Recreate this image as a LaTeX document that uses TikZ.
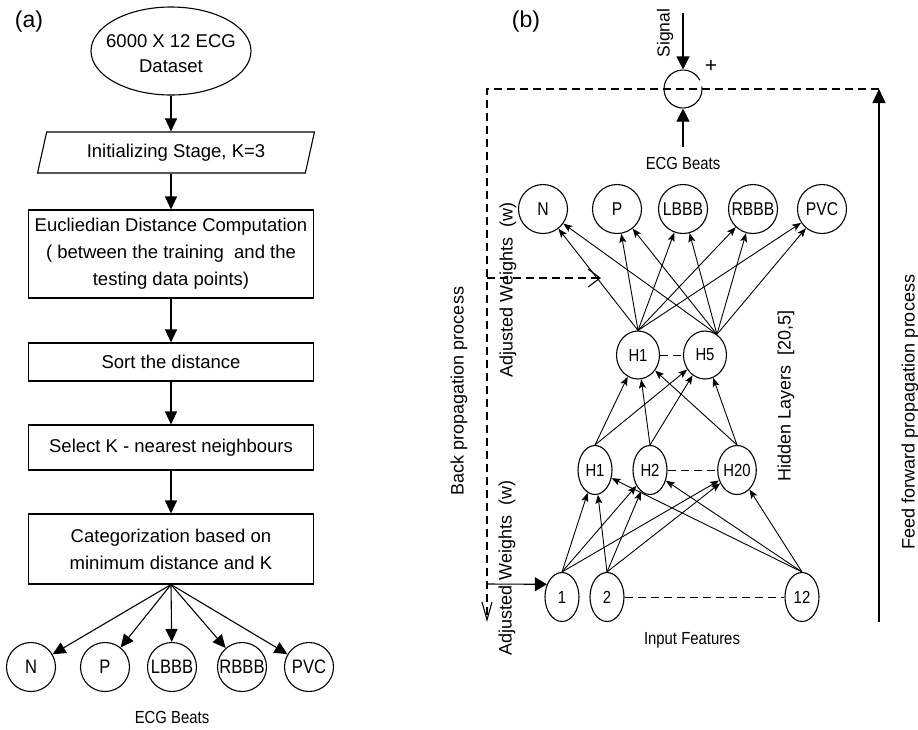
\documentclass[tikz,border=0pt]{standalone}
\usepackage{fontspec}
\setmainfont{Liberation Sans}
\newfontfamily\narrowfont[FakeStretch=0.85]{Liberation Sans}
\usetikzlibrary{shapes.geometric,arrows.meta}
\tikzset{
 lfont/.style={font=\fontsize{18.5}{27}\selectfont},
 flowbox/.style={draw, rectangle, minimum width=285pt, inner sep=0pt, align=center, lfont},
 farrow/.style={-{Triangle[length=13pt,width=12pt]}},
 beat/.style={draw, circle, minimum size=49pt, inner sep=0pt, font=\narrowfont\fontsize{19.5}{20}\selectfont},
 rbeat/.style={beat, font=\narrowfont\fontsize{18.5}{20}\selectfont},
 neuron/.style={draw, ellipse, minimum width=34pt, minimum height=49pt, inner sep=0pt, font=\narrowfont\fontsize{17.5}{18}\selectfont},
 hidtwo/.style={neuron, minimum width=43pt, minimum height=48pt},
 narr/.style={-{Stealth[length=9pt,width=7pt,inset=2pt]}, line width=0.9pt},
 dsh/.style={dash pattern=on 8pt off 5pt},
 rottext/.style={rotate=90, font=\fontsize{18}{20}\selectfont},
 nartext/.style={font=\narrowfont\fontsize{17.5}{20}\selectfont},
}
\begin{document}
\begin{tikzpicture}[x=1pt,y=-1pt,line width=1.1pt]
\useasboundingbox (0,0) rectangle (918,729);

% ---------- (a) ----------
\node[font=\fontsize{23}{25}\selectfont] (la) at (29,22) {(a)};
\node[ellipse, draw, minimum width=160pt, minimum height=88pt, inner sep=0pt, align=center, font=\fontsize{18.5}{25}\selectfont] (ds) at (171,51) {};
\node[align=center, font=\fontsize{18.5}{25}\selectfont] (dstext) at (171,54) {6000 X 12 ECG\\Dataset};
\node[trapezium, trapezium left angle=70, trapezium right angle=110, trapezium stretches=true, draw, minimum width=277pt, minimum height=41pt, inner sep=0pt, lfont] (init) at (176,152.5) {Initializing Stage, K=3};
\node[flowbox, minimum height=88pt] (eu) at (171,254) {Eucliedian Distance Computation\\( between the training\ \ and the\\testing data points)};
\node[flowbox, minimum height=38pt] (sort) at (171,362) {Sort the distance};
\node[flowbox, minimum height=45pt] (sel) at (171,447.5) {Select K - nearest neighbours};
\node[flowbox, minimum height=70pt] (cat) at (171,549) {Categorization based on\\minimum distance and K};

\draw[farrow] (ds.south) -- (ds.south |- init.north);
\draw[farrow] (ds.south |- init.south) -- (eu.north);
\draw[farrow] (eu.south) -- (sort.north);
\draw[farrow] (sort.south) -- (sel.north);
\draw[farrow] (sel.south) -- (cat.north);

\node[beat] (N1) at (31,667) {N};
\node[beat] (P1) at (105,667) {P};
\node[beat] (L1) at (172,667) {LBBB};
\node[beat] (R1) at (242,667) {RBBB};
\node[beat] (V1) at (309,667) {PVC};
\foreach \c in {N1,P1,L1,R1,V1} \draw[farrow] (cat.south) -- (\c);
\node[nartext] (ecga) at (172,717) {ECG Beats};

% ---------- (b) ----------
\node[font=\fontsize{23}{25}\selectfont] (lb) at (526,22) {(b)};
\node[circle, minimum size=38pt, inner sep=0pt] (sum) at (683,89) {};
\begin{scope}[shift={(683,89)}, y=1pt]
  \draw (28:19) arc[start angle=28, end angle=368, radius=19];
\end{scope}
\coordinate (sigtop) at (683,13);
\draw[-{Triangle[length=13pt,width=13pt]}] (sigtop) -- (sum.north);
\node[rottext, font=\fontsize{17.5}{20}\selectfont] (sig) at (665,33) {Signal};
\node[font=\fontsize{21}{21}\selectfont] (plus) at (711,66) {+};
\coordinate (ecgtop) at (683,147);
\draw[-{Triangle[length=13pt,width=13pt]}] (ecgtop) -- (sum.south);
\node[nartext] (ecgb) at (683,163) {ECG Beats};

\coordinate (fftop) at (879,89);
\coordinate (ffbot) at (879,622);
\coordinate (bpc) at (487,89);
\coordinate (bpend) at (487,622);
\draw[-{Triangle[length=14pt,width=13pt]}] (ffbot) -- (fftop);
\draw[dsh, -{Straight Barb[length=18pt,width=10pt]}] (fftop) -- (bpc) -- (bpend);

\coordinate (aw1) at (487,278);
\coordinate (aw2) at (601,278);
\draw[dsh, -{Straight Barb[length=12pt,width=18pt]}] (aw1) -- (aw2);

\node[rbeat] (oN) at (543,209) {N};
\node[rbeat] (oP) at (617,209) {P};
\node[rbeat] (oL) at (683,209) {LBBB};
\node[rbeat] (oR) at (753,209) {RBBB};
\node[rbeat] (oV) at (822,209) {PVC};

\node[hidtwo] (hb1) at (638,355) {H1};
\node[hidtwo] (hb5) at (705,355) {H5};

\node[neuron] (ha1) at (595,470) {H1};
\node[neuron] (ha2) at (650,470) {H2};
\node[neuron] (ha20) at (737,470) {H20};

\node[neuron] (i1) at (562,597) {1};
\node[neuron] (i2) at (607,597) {2};
\node[neuron] (i12) at (802,597) {12};

\foreach \o in {oN,oP,oL,oR,oV} {
  \draw[narr] (hb1.north) -- (\o);
  \draw[narr] (hb5.60) -- (\o);
}
\foreach \a in {ha1,ha2,ha20} {
  \draw[narr] (\a.north) -- (hb1);
  \draw[narr] (\a.north) -- (hb5);
}
\foreach \i in {i1,i2,i12} {
  \foreach \a in {ha1,ha2,ha20} \draw[narr] (\i.north) -- (\a);
}
\draw[dsh, line width=0.9pt] (hb1.east) -- (hb5.west);
\draw[dsh, line width=0.9pt] (ha2.east) -- (ha20.west);
\draw[dsh, line width=0.9pt] (i2.east) -- (i12.west);

\coordinate (aw3) at (487,584);
\draw[-{Triangle[length=12pt,width=14pt]}] (aw3) -- (i1.140);

\node[nartext] (inf) at (692,640) {Input Features};
\node[rottext] (bpt) at (459,391) {Back propagation process};
\node[rottext] (awa) at (508,290) {Adjusted Weights\ \ (w)};
\node[rottext] (awb) at (507,568) {Adjusted Weights\ \ (w)};
\node[rottext] (hl) at (786,396) {Hidden Layers\ \ [20,5]};
\node[rottext] (fft) at (910,412) {Feed forward propagation process};
\end{tikzpicture}
\end{document}
